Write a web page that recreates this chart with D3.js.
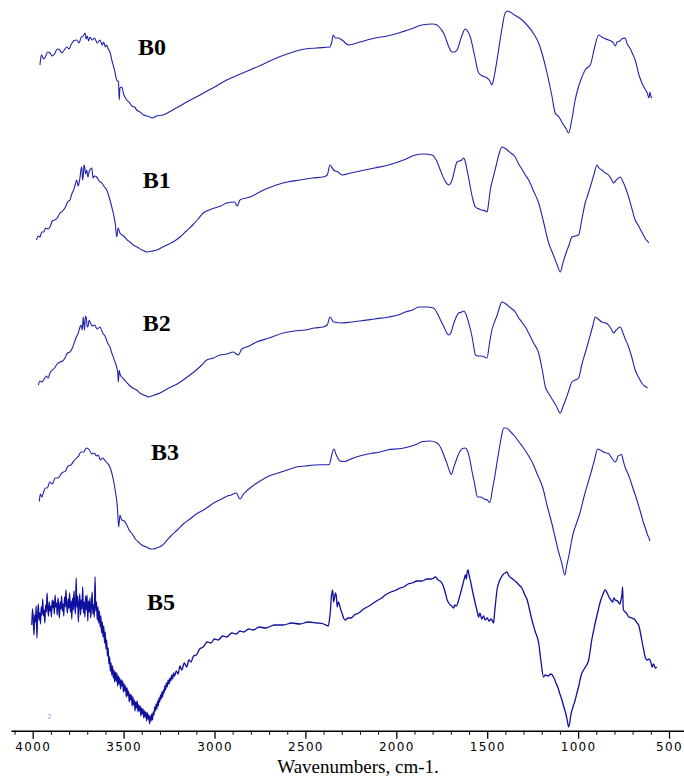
<!DOCTYPE html>
<html>
<head>
<meta charset="utf-8">
<script src="https://cdn.jsdelivr.net/npm/d3@7"></script>
<style>
  html, body { margin: 0; padding: 0; background: #fff; }
  svg { display: block; }
</style>
</head>
<body>
<svg id="chart" width="684" height="783"></svg>
<script>
// ---------- DATA (wavenumber cm-1, transmittance a.u. with stacking offset) ----------
const seriesNames = ["B0", "B1", "B2", "B3", "B5"];
const majorTicks = [4000, 3500, 3000, 2500, 2000, 1500, 1000, 500];
const axisTitle = "Wavenumbers, cm-1.";

const B0 = [
[3960,133.0],[3955,134.6],[3951,135.0],[3940,134.2],[3930,134.6],[3918,135.6],[3905,135.4],[3892,134.8],[3880,135.2],[3865,136.2],[3850,136.0],[3840,135.4],[3830,135.8],[3813,136.6],
[3800,136.2],[3790,137.0],[3775,137.8],[3758,138.0],[3745,137.4],[3735,138.4],[3722,138.8],[3712,139.4],[3706,138.2],[3700,138.8],[3692,137.8],[3685,138.6],[3672,138.0],[3660,138.4],[3645,137.4],[3630,138.0],
[3618,137.0],[3610,137.6],[3600,136.6],[3593,137.0],[3585,136.2],[3575,135.6],[3565,134.0],[3550,132.0],[3538,130.0],[3528,129.6],[3524,126.0],
[3520,128.4],[3510,128.6],[3500,127.2],[3483,126.0],[3470,125.6],[3455,124.8],[3440,124.6],[3428,124.0],[3410,123.6],[3390,123.0],[3370,122.8],[3355,122.6],[3340,122.4],[3320,122.8],
[3283,123.0],[3250,123.6],[3220,124.2],[3190,124.8],[3153,125.6],[3100,126.6],[3040,127.8],[2990,128.8],[2933,130.0],[2870,131.0],[2805,132.0],[2730,133.2],[2659,134.4],[2600,135.2],[2530,136.0],
[2440,136.4],[2365,136.6],[2355,137.6],[2347,139.0],[2335,138.4],[2320,138.4],[2299,138.0],[2262,137.0],
[2200,137.6],[2116,138.4],[2050,138.8],[1987,139.4],[1920,140.2],[1859,141.0],[1800,141.2],[1776,141.0],[1755,140.2],[1740,139.4],
[1715,137.0],[1700,135.8],[1694,135.6],[1680,135.6],[1666,136.0],[1640,138.8],[1621,140.2],[1608,139.8],[1593,138.6],[1570,135.0],[1547,131.4],[1525,130.8],
[1501,130.4],[1485,129.8],[1474,129.0],[1460,131.0],[1446,134.0],[1420,140.0],[1401,143.4],[1385,143.8],[1373,143.6],[1350,143.0],[1330,142.6],[1291,141.4],
[1240,139.0],[1215,137.2],[1199,135.4],[1171,131.4],[1145,127.0],[1126,123.4],[1105,122.6],[1090,121.6],[1065,120.2],[1052,119.4],[1035,122.0],[1016,126.0],
[1000,128.4],[985,130.0],[961,132.0],[945,132.6],[933,133.0],[910,136.4],[887,139.0],[870,138.6],[860,138.4],[832,138.0],[810,137.6],[795,136.8],
[786,137.6],[770,137.8],[760,138.2],[741,138.4],[730,137.2],[715,136.4],[700,135.2],[686,134.0],[665,131.0],[649,129.4],[635,128.4],[620,127.4],[610,126.4],[605,127.6],[600,126.8],[594,126.4]
];

const B1 = [
[3979,98.0],[3970,98.8],[3960,98.6],[3950,99.6],[3940,99.6],[3928,100.4],[3915,100.2],[3905,100.6],[3892,101.8],[3880,102.0],[3865,102.4],[3850,103.4],[3835,103.8],[3820,104.6],[3808,105.6],[3795,106.0],
[3785,107.2],[3775,108.0],[3765,109.2],[3758,110.0],[3750,108.8],[3745,109.4],[3738,111.0],[3735,112.0],[3730,112.6],[3726,110.0],[3722,110.8],[3718,113.0],[3715,112.8],[3709,111.2],[3703,112.0],
[3696,110.6],[3690,111.6],[3682,112.2],[3675,112.4],[3668,110.4],[3660,110.8],[3648,110.6],[3635,109.8],[3620,109.4],[3605,108.6],[3593,108.0],[3583,107.0],[3575,106.0],[3565,104.6],[3557,103.4],
[3545,101.0],[3538,98.6],[3530,100.4],[3520,99.4],[3500,98.8],[3480,98.0],[3465,97.6],[3447,97.0],[3425,96.6],[3400,96.0],[3385,95.8],[3373,95.6],
[3340,95.8],[3318,96.0],[3285,96.6],[3250,97.2],[3220,97.8],[3190,98.6],[3155,99.8],[3120,101.0],[3090,102.2],[3062,103.4],[3030,104.0],[3000,104.4],[2965,104.8],[2933,105.4],
[2890,105.6],[2875,104.8],[2860,106.0],[2805,106.6],[2730,108.0],[2659,109.0],[2600,109.6],[2530,110.0],[2460,110.4],[2402,110.6],
[2380,111.0],[2365,113.0],[2345,112.0],[2320,111.6],[2299,111.0],[2250,111.4],[2200,111.8],[2120,112.4],[2042,113.0],[1960,114.0],
[1896,115.0],[1850,115.2],[1804,115.0],[1780,114.0],[1758,112.0],[1735,110.0],[1720,109.2],[1712,109.0],[1700,109.4],[1690,110.4],[1678,112.2],[1666,113.6],
[1640,114.0],[1629,114.4],[1620,113.6],[1611,112.0],[1600,110.0],[1590,108.0],[1578,106.0],[1565,104.6],[1545,104.2],[1530,104.0],[1510,103.8],[1501,103.6],[1492,105.4],[1483,108.0],
[1465,110.8],[1450,113.0],[1435,115.2],[1419,116.6],[1405,116.4],[1390,116.0],[1370,115.4],[1346,114.6],[1330,113.4],[1310,112.2],[1290,111.0],[1272,110.0],[1245,107.8],[1217,105.4],[1190,101.6],
[1162,97.4],[1145,95.8],[1130,94.4],[1115,93.0],[1098,91.6],[1085,93.2],[1070,95.0],[1050,97.0],[1034,98.6],[1015,98.8],[997,99.0],[980,102.0],[961,105.4],
[945,107.2],[930,109.0],[912,111.2],[896,113.0],[885,112.4],[870,112.0],[850,111.4],[832,111.0],[815,110.0],[805,109.4],[790,110.0],[768,110.6],[755,109.8],[745,109.0],
[722,106.6],[705,104.4],[686,102.0],[670,101.0],[650,99.6],[635,98.6],[625,98.0],[618,97.8],[612,97.4]
];

const B2 = [
[3969,69.0],[3960,69.8],[3950,69.6],[3940,70.0],[3925,70.8],[3915,70.4],[3905,71.4],[3892,72.0],[3880,72.4],[3865,73.2],[3850,73.6],[3835,73.8],[3820,74.6],[3808,75.4],[3795,75.6],[3782,76.4],[3770,77.6],
[3760,78.6],[3749,79.4],[3742,80.4],[3735,81.0],[3728,80.0],[3722,82.6],[3718,81.0],[3715,80.0],[3710,82.8],[3705,82.4],[3700,80.6],[3695,80.8],[3690,82.0],[3685,81.6],[3672,80.8],[3660,81.0],
[3645,80.2],[3630,80.6],[3615,79.4],[3600,78.6],[3588,77.4],[3575,76.6],[3565,75.4],[3555,74.4],[3545,73.4],[3538,72.6],[3532,71.4],[3529,69.6],[3524,72.0],[3520,71.2],[3510,70.6],
[3490,69.8],[3470,69.0],[3450,68.4],[3428,68.0],[3410,67.4],[3390,67.0],[3375,66.8],[3364,66.6],[3345,66.8],[3330,67.0],[3300,67.4],[3270,68.0],[3240,68.6],[3205,69.2],[3172,70.0],
[3135,71.0],[3100,72.0],[3070,73.0],[3043,74.0],[3005,74.4],[2970,75.0],[2930,75.2],[2897,75.6],[2869,75.0],[2850,76.2],[2810,76.8],[2768,77.6],[2700,78.4],
[2622,79.4],[2560,79.8],[2500,80.0],[2450,80.4],[2402,80.6],[2380,81.0],[2365,82.6],[2345,81.6],[2300,81.4],[2250,81.6],[2200,81.8],[2120,82.2],
[2042,82.6],[1990,83.0],[1950,83.6],[1910,84.0],[1877,84.6],[1830,84.6],[1795,84.4],[1770,83.0],[1749,81.4],[1735,80.4],[1725,79.6],[1712,79.0],
[1700,79.4],[1690,80.6],[1675,82.2],[1657,83.4],[1640,83.6],[1629,83.8],[1615,83.0],[1602,81.4],[1590,79.8],[1580,78.0],[1572,76.2],[1565,75.0],[1548,74.8],[1530,74.8],[1515,74.6],[1501,74.4],
[1488,77.2],[1474,80.0],[1460,81.6],[1445,83.0],[1432,84.6],[1419,85.6],[1405,85.4],[1390,85.0],[1370,84.4],[1346,83.6],[1330,82.6],[1310,81.6],[1290,80.6],[1272,79.4],[1245,77.4],[1217,75.4],[1198,72.2],
[1180,68.6],[1160,67.2],[1140,66.0],[1120,64.8],[1098,63.4],[1082,64.8],[1065,66.4],[1050,68.0],[1034,69.6],[1015,70.0],[997,70.4],[980,73.0],[961,75.4],
[945,77.4],[930,79.4],[918,81.0],[906,82.6],[890,82.2],[870,81.6],[850,81.4],[832,81.0],[815,80.0],[805,79.4],[790,80.0],[768,80.6],[755,79.6],[745,78.6],
[722,76.6],[705,74.6],[686,72.0],[668,70.6],[650,69.4],[635,68.8],[625,68.6],[618,68.4]
];

const B3 = [
[3964,45.7],[3958,47.2],[3950,46.6],[3940,47.6],[3930,48.4],[3920,48.4],[3906,49.6],[3892,49.2],[3876,50.4],[3860,50.4],[3840,51.4],[3820,51.8],[3805,52.8],[3790,53.0],[3770,54.0],[3748,54.8],
[3735,55.6],[3720,55.6],[3705,56.4],[3688,56.0],[3675,55.2],[3660,55.4],[3650,54.8],[3640,55.0],[3628,54.0],[3616,54.4],[3600,53.8],[3590,53.4],[3578,52.8],[3568,51.8],[3555,49.8],[3544,47.4],
[3535,45.0],[3527,40.6],[3520,43.0],[3510,42.0],[3496,41.8],[3482,41.0],[3470,40.0],[3452,39.2],[3436,38.2],[3418,37.6],[3400,37.0],[3375,36.6],
[3352,36.2],[3335,36.2],[3320,36.4],[3292,36.8],[3265,37.8],[3240,38.8],[3205,40.0],[3172,41.2],[3135,42.2],[3100,43.2],[3060,44.0],[3028,44.8],[2995,45.6],[2960,46.2],
[2930,46.8],[2908,47.0],[2880,47.4],[2860,46.2],[2840,47.2],[2790,48.8],[2740,50.0],[2700,50.8],[2650,51.4],[2600,52.0],[2549,52.6],[2500,52.8],[2450,53.0],[2369,53.1],
[2355,55.0],[2344,56.2],[2330,55.0],[2310,53.8],[2284,53.7],[2250,54.2],[2220,54.6],[2180,55.0],[2140,55.3],[2090,55.6],[2050,56.0],
[1973,56.3],[1935,56.6],[1900,57.0],[1875,57.4],[1853,57.7],[1815,57.8],[1781,57.5],[1765,57.0],[1755,56.4],[1743,55.4],[1733,54.4],[1722,53.4],[1715,52.6],[1705,51.6],[1697,51.1],
[1685,52.4],[1670,54.0],[1652,55.6],[1637,56.3],[1620,56.4],[1608,55.8],[1595,54.0],[1585,52.0],[1570,49.4],[1553,46.6],[1535,46.6],[1517,46.2],[1500,46.0],[1485,45.5],[1472,48.0],[1457,51.0],
[1443,54.2],[1430,57.0],[1419,59.2],[1409,60.4],[1395,60.4],[1380,60.0],[1365,59.4],[1349,58.8],[1325,57.6],[1300,56.4],[1275,55.0],[1253,53.6],[1225,51.2],[1193,48.3],[1170,44.8],[1145,41.4],
[1128,38.8],[1110,36.0],[1090,33.4],[1073,31.0],[1062,33.0],[1050,35.0],[1038,37.4],[1025,39.6],[1008,41.4],[989,43.5],[965,47.0],[941,50.0],[925,52.0],[910,54.0],[893,56.2],
[878,56.0],[860,55.6],[845,55.4],[833,55.3],[815,54.4],[797,53.6],[788,54.0],[780,54.8],[770,55.0],[761,55.1],[750,53.6],[740,52.4],[725,51.2],[713,50.0],[695,48.0],[680,46.4],
[665,44.6],[653,43.1],[640,41.4],[630,40.4],[618,39.0],[610,38.4],[605,37.8]
];

const B5 = [
[4005,21.0],[4001,24.2],[3997,22.4],[3993,19.0],[3989,23.0],[3985,21.6],[3981,24.8],[3977,18.4],[3973,22.6],[3969,25.2],[3965,22.0],[3961,23.4],[3957,21.2],[3953,24.6],
[3949,23.0],[3945,26.2],[3941,22.8],[3937,24.0],[3933,21.4],[3929,25.0],[3925,23.6],[3921,27.4],[3917,24.2],[3913,22.8],[3909,25.6],[3905,23.8],[3901,24.8],[3897,22.6],
[3893,26.0],[3889,24.4],[3885,25.8],[3881,23.2],[3877,27.0],[3873,24.6],[3869,25.4],[3865,23.0],[3861,26.4],[3857,24.8],[3853,22.4],[3849,25.6],[3845,24.2],[3841,26.8],
[3837,23.8],[3833,25.2],[3829,22.8],[3825,26.6],[3821,24.6],[3817,28.0],[3813,24.8],[3809,23.4],[3805,26.2],[3801,24.4],[3797,27.4],[3793,23.6],[3789,25.8],[3785,22.2],
[3781,26.4],[3777,24.0],[3773,27.8],[3769,25.0],[3765,23.2],[3761,30.4],[3757,24.6],[3753,26.8],[3749,21.6],[3745,25.4],[3741,27.2],[3737,23.0],[3733,26.0],[3729,24.2],
[3725,28.6],[3721,23.4],[3717,25.6],[3713,22.6],[3709,26.8],[3705,24.0],[3701,27.0],[3697,21.8],[3693,25.8],[3689,23.6],[3685,26.4],[3681,22.4],[3677,24.8],[3673,27.6],
[3669,23.2],[3665,25.0],[3661,22.6],[3657,30.6],[3653,23.8],[3649,25.6],[3645,22.0],[3641,24.6],[3637,21.4],[3633,23.8],[3629,20.6],[3625,22.8],[3621,19.4],[3617,21.6],
[3613,18.6],[3609,20.8],[3605,17.4],[3601,19.6],[3597,16.2],[3593,18.0],[3589,14.8],[3585,16.4],[3581,13.2],[3577,14.6],[3573,11.8],[3569,13.4],[3565,11.0],[3561,12.8],
[3557,10.4],[3553,12.0],[3549,9.6],[3545,11.6],[3541,9.8],[3537,11.4],[3533,8.8],[3529,10.8],[3525,9.2],[3521,10.4],[3517,8.2],[3513,10.0],[3509,8.8],[3505,9.8],
[3501,7.6],[3497,9.2],[3493,7.8],[3489,8.8],[3485,6.6],[3481,8.4],[3477,6.8],[3473,7.8],[3469,5.6],[3465,7.2],[3461,6.0],[3457,7.0],[3453,4.8],[3449,6.6],
[3445,5.0],[3441,6.0],[3437,3.8],[3433,5.6],[3429,4.4],[3425,5.8],[3421,3.6],[3417,5.0],[3413,3.8],[3409,4.8],[3405,2.8],[3401,4.4],[3397,3.2],[3393,4.2],
[3389,2.4],[3385,3.8],[3381,2.6],[3377,3.6],[3373,1.8],[3369,3.4],[3365,2.2],[3361,3.0],[3357,1.2],[3353,2.8],[3349,1.8],[3345,3.2],[3341,2.0],[3337,3.6],
[3333,3.0],[3329,4.6],[3325,3.8],[3321,5.2],[3317,4.2],[3313,5.8],[3309,4.8],[3305,6.4],[3301,5.6],[3297,7.0],[3293,6.2],[3289,7.6],[3285,6.6],[3281,8.0],
[3277,7.4],[3273,8.8],[3269,8.0],[3265,9.4],[3260,8.6],[3255,10.0],[3250,9.2],[3245,10.4],[3240,9.8],[3235,11.0],[3230,10.2],[3225,11.4],[3220,10.8],[3210,11.8],
[3200,11.2],[3190,12.8],[3180,12.0],[3166,13.4],[3153,12.6],[3141,14.0],[3130,13.6],
[3115,14.8],[3100,15.0],[3082,16.2],[3062,16.6],[3040,17.6],[3020,17.4],[3000,18.2],[2980,18.0],[2955,18.8],[2933,18.6],[2905,19.4],[2880,19.2],[2860,19.8],[2840,19.6],[2812,20.2],[2787,20.0],
[2755,20.6],[2720,20.4],[2670,21.0],[2622,21.0],[2575,21.4],[2530,21.2],[2485,21.6],[2438,21.4],[2400,21.2],[2374,20.8],[2366,22.6],[2362,24.0],[2358,26.4],[2355,27.2],
[2350,28.0],[2345,25.6],[2340,26.4],[2335,27.4],[2330,26.8],[2325,24.6],[2319,25.6],[2305,24.0],[2299,23.4],[2290,22.4],[2281,22.0],[2265,22.4],[2250,22.4],[2230,23.0],
[2207,23.4],[2180,24.2],[2150,24.8],[2125,25.4],[2100,26.0],[2080,26.4],[2061,27.0],[2030,27.6],[2000,28.0],[1980,28.4],[1960,28.6],[1935,29.2],[1914,29.4],[1885,29.8],[1860,29.8],[1830,30.2],
[1804,30.2],[1785,30.6],[1770,30.0],[1760,29.8],[1749,29.4],[1740,28.6],[1730,27.4],[1720,26.0],[1712,25.4],[1703,25.0],[1695,24.8],[1685,24.4],[1678,25.0],[1670,24.8],
[1657,26.0],[1645,27.6],[1635,29.0],[1625,30.4],[1620,31.0],[1615,30.2],[1611,31.4],[1605,32.0],[1600,31.0],[1593,30.0],[1582,28.0],[1570,26.0],[1558,24.2],[1547,22.6],[1540,23.4],
[1530,22.2],[1520,22.8],[1511,22.0],[1500,22.4],[1490,21.8],[1478,22.2],[1465,21.4],[1460,23.2],[1455,25.0],[1446,28.0],[1435,29.6],[1425,30.4],[1410,31.2],[1401,31.4],[1392,31.6],
[1380,30.8],[1360,30.2],[1340,29.6],[1325,29.0],[1309,28.4],[1295,27.2],[1280,26.0],[1268,24.2],[1254,22.0],[1235,19.6],[1217,17.4],[1205,14.0],[1190,10.6],[1180,11.0],[1165,10.8],[1150,11.2],
[1135,10.6],[1122,9.4],[1110,8.4],[1100,7.2],[1089,6.0],[1080,4.8],[1070,3.6],[1060,2.0],[1052,0.6],[1046,1.4],[1040,3.0],[1028,4.6],[1016,6.0],[1005,7.6],[995,9.0],
[987,10.4],[979,11.4],[970,12.0],[960,12.6],[950,13.2],[942,14.0],[933,16.0],[925,18.0],[915,19.8],[906,21.4],[893,23.4],[880,25.4],[865,27.0],[851,28.0],[840,27.4],[830,26.6],
[820,26.0],[810,25.6],[803,26.4],[796,26.0],[783,25.8],[770,25.2],[762,26.4],[759,27.0],[755,28.6],[752,24.4],[750,24.0],[735,23.4],[720,22.6],[703,22.4],[686,22.0],
[676,21.4],[667,21.0],[658,19.6],[650,18.0],[640,16.2],[631,14.6],[620,14.0],[610,14.2],[600,13.6],[593,12.6],[585,13.2],[576,12.4],[567,12.6]
];

// Label anchor per series: [wavenumber, value] in data units
const labelPos = [[3421,135.0],[3394,108.4],[3394,79.8],[3349,54.0],[3371,24.0]];

// ---------- DRAW ----------
const allSeries = [B0, B1, B2, B3, B5];
const svg = d3.select("#chart");
const lineColor = "#2222aa";

const x = d3.scaleLinear().domain([4000, 500]).range([32.7, 669]);
const y = d3.scaleLinear().domain([0, 146]).range([730, 0]);

const line = d3.line()
  .x(d => x(d[0]))
  .y(d => y(d[1]))
  .curve(d3.curveMonotoneX);

svg.append("g")
  .selectAll("path")
  .data(allSeries)
  .join("path")
  .attr("d", line)
  .attr("fill", "none")
  .attr("stroke", (d, i) => i === 4 ? "#10109e" : lineColor)
  .attr("stroke-width", (d, i) => i === 4 ? 1.3 : 1.1)
  .attr("stroke-linejoin", "round");

// series labels
svg.append("g")
  .selectAll("text")
  .data(seriesNames)
  .join("text")
  .attr("x", (d, i) => x(labelPos[i][0]))
  .attr("y", (d, i) => y(labelPos[i][1]))
  .attr("font-family", "'Liberation Serif', 'Times New Roman', serif")
  .attr("font-weight", "bold")
  .attr("font-size", 24)
  .attr("fill", "#000")
  .text(d => d);

// x axis
const axisY = y(0) + 0.7;
const xAxisScale = d3.scaleLinear().domain([4120, 420]).range([x(4120), x(420)]);

const minorTicks = d3.range(4100, 400, -100).filter(v => v % 500 !== 0);

const gMinor = svg.append("g").attr("transform", `translate(0,${axisY})`)
  .call(d3.axisBottom(xAxisScale).tickValues(minorTicks).tickSize(4).tickSizeOuter(0).tickFormat(""));
gMinor.select(".domain").attr("stroke", "#000").attr("stroke-width", 1.6);
gMinor.selectAll(".tick line").attr("stroke", "#000").attr("stroke-width", 1);

const gMajor = svg.append("g").attr("transform", `translate(0,${axisY})`)
  .call(d3.axisBottom(xAxisScale).tickValues(majorTicks).tickSize(8).tickSizeOuter(0).tickPadding(4)
    .tickFormat(d3.format("d")));
gMajor.select(".domain").remove();
gMajor.selectAll(".tick line").attr("stroke", "#000").attr("stroke-width", 1.3);
gMajor.selectAll(".tick text")
  .attr("font-family", "'DejaVu Sans', sans-serif")
  .attr("font-size", 12)
  .attr("letter-spacing", "1.3px")
  .attr("fill", "#000");

svg.append("text")
  .attr("x", 358)
  .attr("y", 773)
  .attr("text-anchor", "middle")
  .attr("font-family", "'Liberation Serif', 'Times New Roman', serif")
  .attr("font-size", 19)
  .attr("fill", "#000")
  .text(axisTitle);

// tiny marker left in the original figure
svg.append("text")
  .attr("x", x(3920))
  .attr("y", y(2.2))
  .attr("font-family", "'DejaVu Sans', sans-serif")
  .attr("font-size", 7)
  .attr("fill", "#a0a0e0")
  .text("2");
</script>
</body>
</html>
